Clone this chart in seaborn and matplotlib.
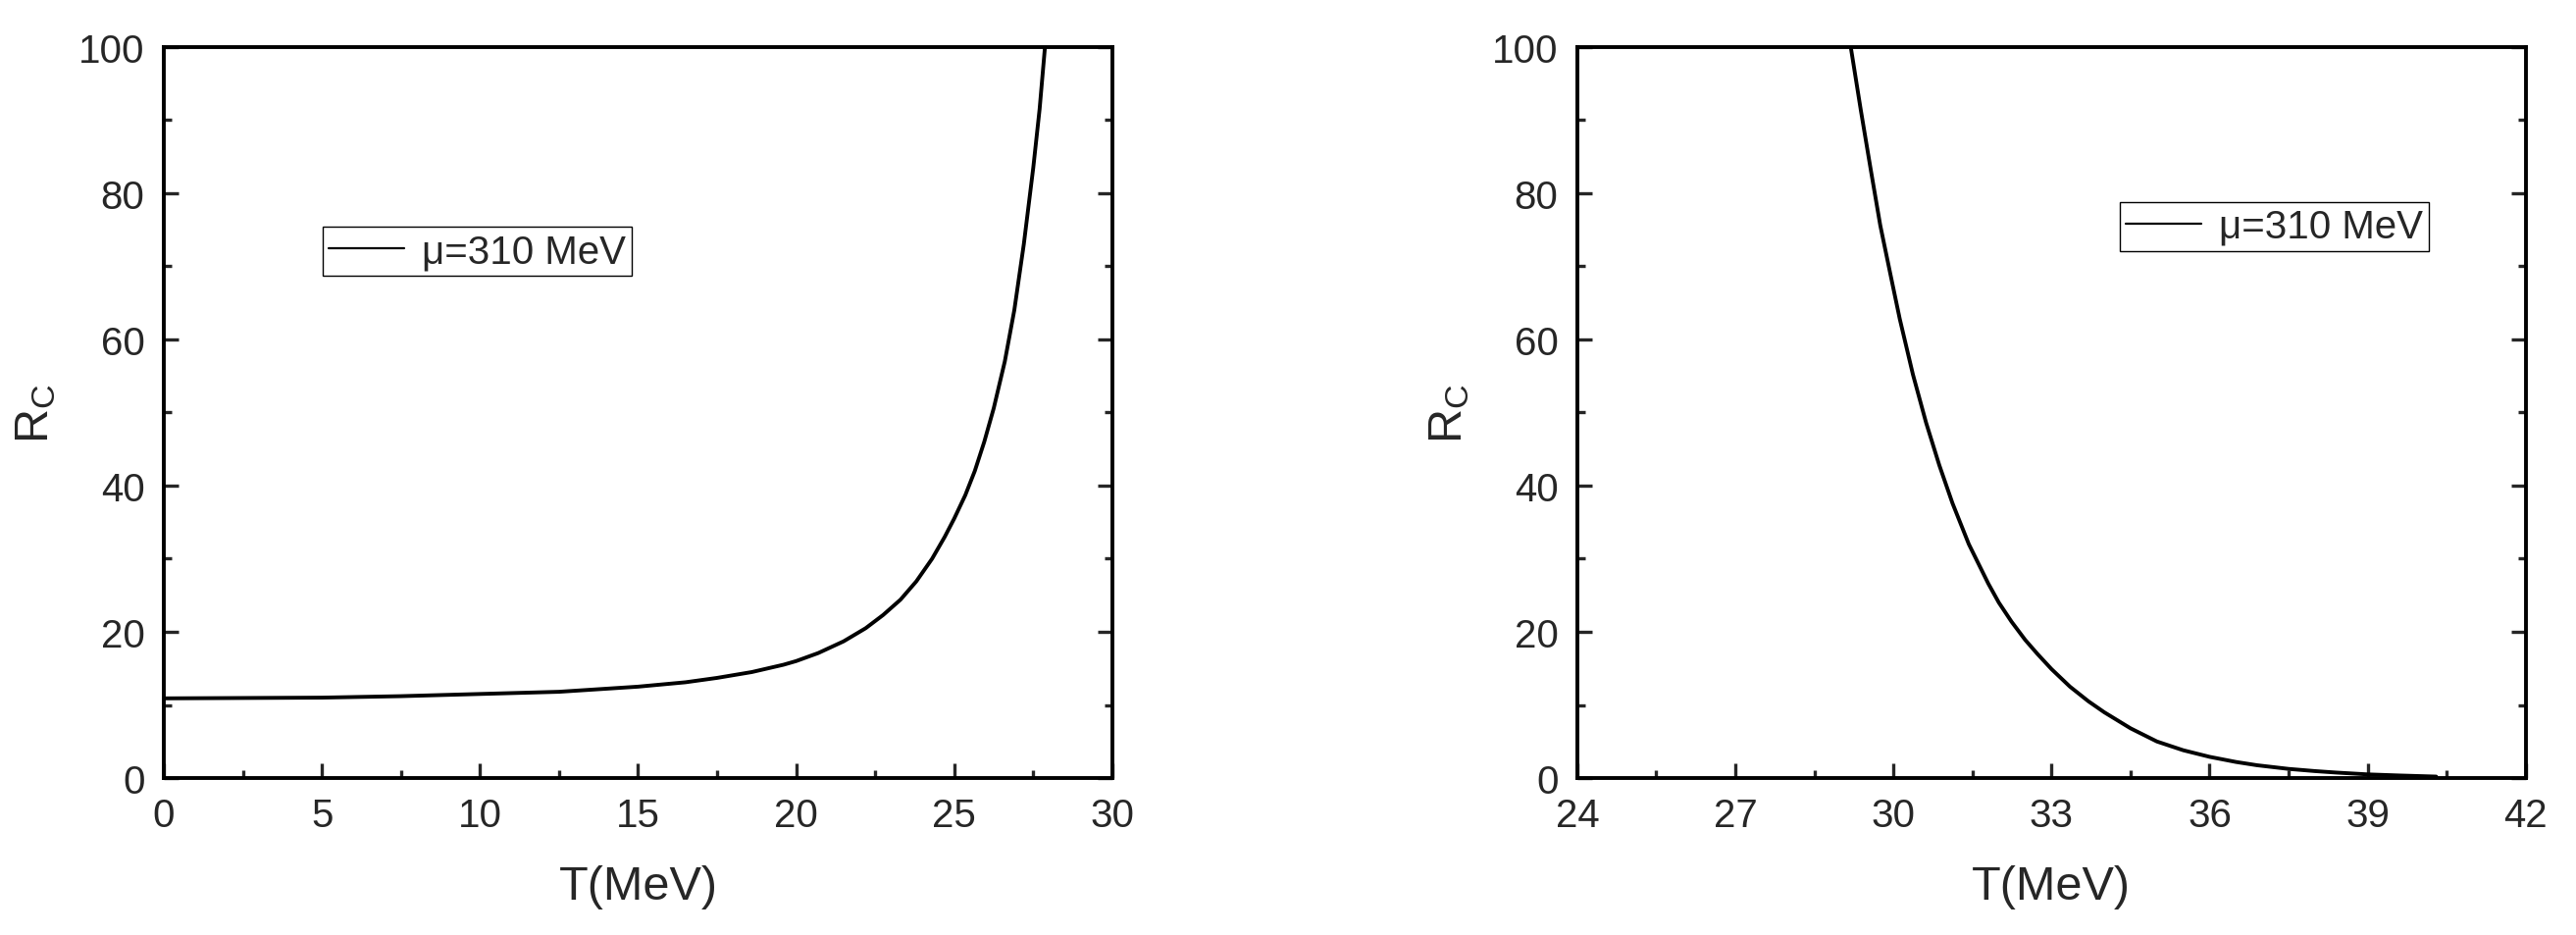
import numpy as np
import pandas as pd
import matplotlib
matplotlib.use("Agg")
import matplotlib.pyplot as plt
import seaborn as sns
from matplotlib.ticker import MultipleLocator

# values
t_left = [0, 2.5, 5, 7.5, 10, 12.5, 15, 16.5, 17.5, 18.6, 19.6, 20.0, 20.7, 21.5,
          22.2, 22.75, 23.3, 23.8, 24.3, 24.7, 25.0, 25.35, 25.65, 25.95, 26.25,
          26.6, 26.9, 27.2, 27.5, 27.7, 27.87]
rc_left = [10.9, 10.95, 11.0, 11.2, 11.5, 11.8, 12.5, 13.1, 13.7, 14.5, 15.5, 16.0,
           17.1, 18.7, 20.5, 22.3, 24.4, 26.9, 30.0, 33.0, 35.5, 38.7, 42.0, 46.0,
           50.6, 57.0, 64.0, 73.0, 83.5, 91.5, 100]

t_right = [29.19, 29.38, 29.57, 29.75, 29.94, 30.12, 30.37, 30.62, 30.87, 31.12,
           31.43, 31.8, 32.0, 32.24, 32.5, 32.73, 33.0, 33.35, 33.7, 34.0, 34.5,
           35.0, 35.5, 36.0, 36.5, 36.9, 37.5, 38.0, 38.4, 39.0, 39.6, 40.3]
rc_right = [100, 91.4, 83.2, 75.6, 69.0, 62.8, 55.2, 48.6, 42.8, 37.6, 32.0, 26.6,
            24.0, 21.4, 18.9, 17.0, 14.9, 12.5, 10.5, 9.0, 6.8, 5.0, 3.8, 2.9, 2.2,
            1.75, 1.25, 0.95, 0.75, 0.5, 0.35, 0.2]

legend_label = "μ=310 MeV"
x_label = "T(MeV)"
y_label = r"$\mathregular{R_C}$"

sns.set_style("ticks")
plt.rcParams['font.family'] = ['Liberation Sans', 'DejaVu Sans']
plt.rcParams['mathtext.fontset'] = 'custom'
plt.rcParams['mathtext.rm'] = 'Liberation Sans'

fig = plt.figure(figsize=(26.26, 9.54), dpi=100)
ax1 = fig.add_axes([0.0636, 0.1677, 0.3682, 0.781])
ax2 = fig.add_axes([0.6123, 0.1677, 0.3682, 0.781])

panels = [
    (ax1, t_left, rc_left, (0, 30), 5, 2.5, (0.1675, 0.754)),
    (ax2, t_right, rc_right, (24, 42), 3, 1.5, (0.572, 0.788)),
]

for ax, t, rc, xlim, xmaj, xmin, leg_pos in panels:
    df = pd.DataFrame({"T": t, "Rc": rc})
    sns.lineplot(data=df, x="T", y="Rc", ax=ax, color="black", lw=2.8,
                 sort=False, estimator=None, label=legend_label)
    ax.set_xlim(*xlim)
    ax.set_ylim(0, 100)
    ax.xaxis.set_major_locator(MultipleLocator(xmaj))
    ax.xaxis.set_minor_locator(MultipleLocator(xmin))
    ax.yaxis.set_major_locator(MultipleLocator(20))
    ax.yaxis.set_minor_locator(MultipleLocator(10))
    for s in ax.spines.values():
        s.set_linewidth(2.8)
        s.set_color("black")
    ax.tick_params(which="both", direction="in", width=2.4, labelsize=29,
                   bottom=True, left=True, right=True, top=False, pad=14)
    ax.tick_params(which="major", length=11)
    ax.tick_params(which="minor", length=6)
    ax.set_xlabel(x_label, fontsize=35, labelpad=22)
    ax.set_ylabel(y_label, fontsize=35, labelpad=15)
    leg = ax.legend(loc="upper left", bbox_to_anchor=leg_pos, borderaxespad=0,
                    fontsize=29, frameon=True, fancybox=False, framealpha=1,
                    edgecolor="black", handlelength=1.9, handletextpad=0.45,
                    borderpad=0.15)
    leg.get_frame().set_linewidth(1.0)
    for ln in leg.get_lines():
        ln.set_linewidth(1.6)

fig.savefig("out.png", dpi=100, facecolor="white")
